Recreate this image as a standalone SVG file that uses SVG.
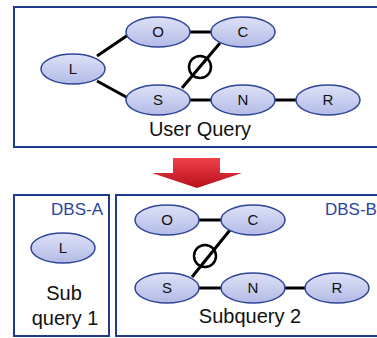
<svg xmlns="http://www.w3.org/2000/svg" width="377" height="338" viewBox="0 0 377 338">
<defs>
<linearGradient id="nodeFill" x1="0" y1="0" x2="0" y2="1">
<stop offset="0" stop-color="#dde1f7"/>
<stop offset="1" stop-color="#b3bbe6"/>
</linearGradient>
<linearGradient id="arrowFill" x1="0" y1="0" x2="0" y2="1">
<stop offset="0" stop-color="#f0404c"/>
<stop offset="1" stop-color="#b8101c"/>
</linearGradient>
</defs>
<style>
.box{fill:#fff;stroke:#1f3c8c;stroke-width:2}
.node ellipse{fill:url(#nodeFill);stroke:#2e4596;stroke-width:1.5}
.node text{font-family:"Liberation Sans",Arial,sans-serif;font-size:15px;fill:#111;text-anchor:middle}
.edge{stroke:#000;stroke-width:3;fill:none}
.empty{stroke:#000;stroke-width:2.5;fill:none}
.label{font-family:"Liberation Sans",Arial,sans-serif;font-size:20px;fill:#111;text-anchor:middle}
.dbs{font-family:"Liberation Sans",Arial,sans-serif;font-size:17px;fill:#2b44a0}
</style>
<rect width="377" height="338" fill="#fff"/>
<rect class="box" x="14" y="7" width="380" height="140"/>
<rect class="box" x="14" y="195" width="95" height="141"/>
<rect class="box" x="116" y="195" width="280" height="141"/>
<polygon points="173,158 220,158 220,173 242,173 197,188 152,173 173,173" fill="url(#arrowFill)"/>
<g id="connectors">
<line class="edge" x1="97" y1="56" x2="128" y2="35"/>
<line class="edge" x1="97" y1="81" x2="128" y2="98"/>
<line class="edge" x1="189" y1="32" x2="212" y2="32"/>
<line class="edge" x1="189" y1="100" x2="212" y2="100"/>
<line class="edge" x1="274" y1="100" x2="297" y2="100"/>
<line class="edge" x1="182" y1="88" x2="220" y2="43"/>
<circle class="empty" cx="200" cy="67" r="11"/>
<line class="edge" x1="198" y1="220" x2="222" y2="220"/>
<line class="edge" x1="198" y1="288" x2="222" y2="288"/>
<line class="edge" x1="284" y1="288" x2="306" y2="288"/>
<line class="edge" x1="192" y1="277" x2="230" y2="230"/>
<circle class="empty" cx="205" cy="256" r="11"/>
</g>
<g id="top-L" class="node"><ellipse cx="73" cy="69" rx="32" ry="15"/><text x="73" y="74">L</text></g>
<g id="top-O" class="node"><ellipse cx="158" cy="32" rx="32" ry="15"/><text x="158" y="37">O</text></g>
<g id="top-C" class="node"><ellipse cx="243" cy="32" rx="32" ry="15"/><text x="243" y="37">C</text></g>
<g id="top-S" class="node"><ellipse cx="158" cy="100" rx="32" ry="15"/><text x="158" y="105">S</text></g>
<g id="top-N" class="node"><ellipse cx="243" cy="100" rx="32" ry="15"/><text x="243" y="105">N</text></g>
<g id="top-R" class="node"><ellipse cx="328" cy="100" rx="32" ry="15"/><text x="328" y="105">R</text></g>
<text class="label" x="200" y="136">User Query</text>
<text class="dbs" x="103" y="215" text-anchor="end">DBS-A</text>
<text class="dbs" x="325" y="215">DBS-B</text>
<g id="bot-L" class="node"><ellipse cx="63" cy="248" rx="32" ry="15"/><text x="63" y="253">L</text></g>
<g id="bot-O" class="node"><ellipse cx="167" cy="220" rx="32" ry="15"/><text x="167" y="225">O</text></g>
<g id="bot-C" class="node"><ellipse cx="253" cy="220" rx="32" ry="15"/><text x="253" y="225">C</text></g>
<g id="bot-S" class="node"><ellipse cx="167" cy="288" rx="32" ry="15"/><text x="167" y="293">S</text></g>
<g id="bot-N" class="node"><ellipse cx="253" cy="288" rx="32" ry="15"/><text x="253" y="293">N</text></g>
<g id="bot-R" class="node"><ellipse cx="337" cy="288" rx="32" ry="15"/><text x="337" y="293">R</text></g>
<text class="label" x="64" y="300">Sub</text>
<text class="label" x="65" y="325">query 1</text>
<text class="label" x="250" y="323">Subquery 2</text>
</svg>
